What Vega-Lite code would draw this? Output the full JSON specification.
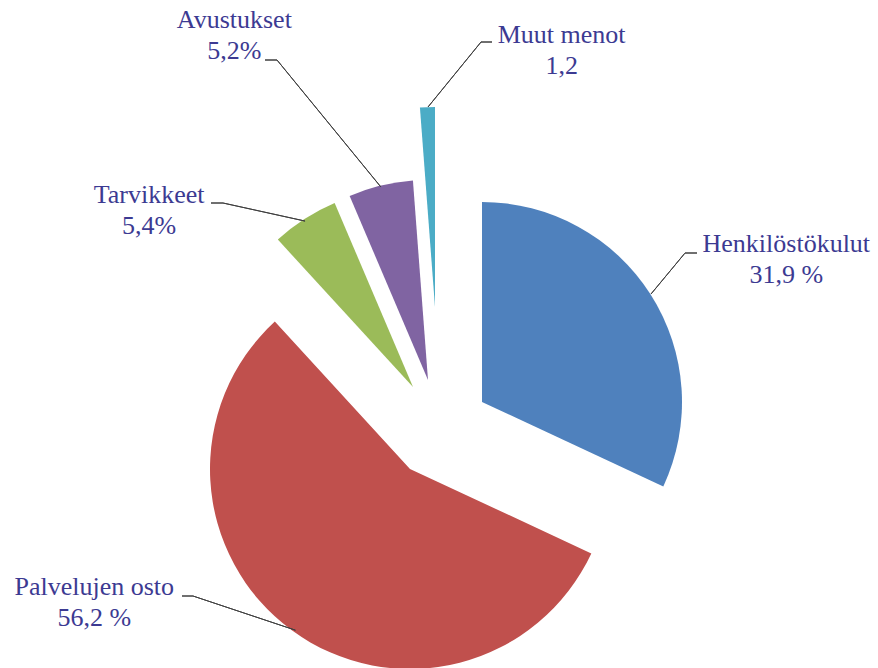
{
  "$schema": "https://vega.github.io/schema/vega-lite/v6.json",
  "width": 876,
  "height": 478,
  "autosize": "none",
  "padding": {"left": 2, "top": 190, "right": 0, "bottom": 0},
  "background": "white",
  "config": {"view": {"stroke": null}},
  "data": {
    "values": [
      {"category": "Henkilöstökulut", "value": 31.9, "label": "Henkilöstökulut\n31,9 %"},
      {"category": "Palvelujen osto", "value": 56.2, "label": "Palvelujen osto\n56,2 %"},
      {"category": "Tarvikkeet", "value": 5.4, "label": "Tarvikkeet\n5,4%"},
      {"category": "Avustukset", "value": 5.2, "label": "Avustukset\n5,2%"},
      {"category": "Muut menot", "value": 1.2, "label": "Muut menot\n1,2"}
    ]
  },
  "transform": [{"window": [{"op": "row_number", "as": "idx"}]}],
  "layer": [
    {
      "mark": {"type": "arc", "radius": 200, "color": "#4F81BD", "xOffset": 42, "yOffset": -27},
      "encoding": {
        "theta": {"field": "value", "type": "quantitative", "stack": true},
        "order": {"field": "idx", "type": "quantitative"},
        "opacity": {"condition": {"test": "datum.category === 'Henkilöstökulut'", "value": 1}, "value": 0}
      }
    },
    {
      "mark": {"type": "arc", "radius": 200, "color": "#C0504D", "xOffset": -30, "yOffset": 40},
      "encoding": {
        "theta": {"field": "value", "type": "quantitative", "stack": true},
        "order": {"field": "idx", "type": "quantitative"},
        "opacity": {"condition": {"test": "datum.category === 'Palvelujen osto'", "value": 1}, "value": 0}
      }
    },
    {
      "mark": {"type": "arc", "radius": 200, "color": "#9BBB59", "xOffset": -27, "yOffset": -42},
      "encoding": {
        "theta": {"field": "value", "type": "quantitative", "stack": true},
        "order": {"field": "idx", "type": "quantitative"},
        "opacity": {"condition": {"test": "datum.category === 'Tarvikkeet'", "value": 1}, "value": 0}
      }
    },
    {
      "mark": {"type": "arc", "radius": 200, "color": "#8064A2", "xOffset": -12, "yOffset": -49},
      "encoding": {
        "theta": {"field": "value", "type": "quantitative", "stack": true},
        "order": {"field": "idx", "type": "quantitative"},
        "opacity": {"condition": {"test": "datum.category === 'Avustukset'", "value": 1}, "value": 0}
      }
    },
    {
      "mark": {"type": "arc", "radius": 200, "color": "#4BACC6", "xOffset": -5, "yOffset": -122},
      "encoding": {
        "theta": {"field": "value", "type": "quantitative", "stack": true},
        "order": {"field": "idx", "type": "quantitative"},
        "opacity": {"condition": {"test": "datum.category === 'Muut menot'", "value": 1}, "value": 0}
      }
    },
    {
      "transform": [{"filter": "datum.category === 'Henkilöstökulut'"}],
      "mark": {"type": "arc", "theta": 0.6924, "theta2": 0.6929, "radius": 53, "radius2": 0, "filled": false, "stroke": "#404040", "strokeWidth": 1, "xOffset": 211, "yOffset": -135},
      "encoding": {}
    },
    {
      "transform": [{"filter": "datum.category === 'Henkilöstökulut'"}],
      "mark": {"type": "arc", "theta": 1.5708, "theta2": 1.5713, "radius": 12, "radius2": 0, "filled": false, "stroke": "#404040", "strokeWidth": 1, "xOffset": 245, "yOffset": -176},
      "encoding": {}
    },
    {
      "transform": [{"filter": "datum.category === 'Muut menot'"}],
      "mark": {"type": "arc", "theta": 0.6840, "theta2": 0.6845, "radius": 84, "radius2": 0, "filled": false, "stroke": "#404040", "strokeWidth": 1, "xOffset": -12, "yOffset": -322},
      "encoding": {}
    },
    {
      "transform": [{"filter": "datum.category === 'Muut menot'"}],
      "mark": {"type": "arc", "theta": 1.5708, "theta2": 1.5713, "radius": 11, "radius2": 0, "filled": false, "stroke": "#404040", "strokeWidth": 1, "xOffset": 41, "yOffset": -387},
      "encoding": {}
    },
    {
      "transform": [{"filter": "datum.category === 'Avustukset'"}],
      "mark": {"type": "arc", "theta": 1.5708, "theta2": 1.5713, "radius": 12, "radius2": 0, "filled": false, "stroke": "#404040", "strokeWidth": 1, "xOffset": -175, "yOffset": -369},
      "encoding": {}
    },
    {
      "transform": [{"filter": "datum.category === 'Avustukset'"}],
      "mark": {"type": "arc", "theta": 2.4557, "theta2": 2.4562, "radius": 164, "radius2": 0, "filled": false, "stroke": "#404040", "strokeWidth": 1, "xOffset": -163, "yOffset": -369},
      "encoding": {}
    },
    {
      "transform": [{"filter": "datum.category === 'Tarvikkeet'"}],
      "mark": {"type": "arc", "theta": 1.5708, "theta2": 1.5713, "radius": 12, "radius2": 0, "filled": false, "stroke": "#404040", "strokeWidth": 1, "xOffset": -229, "yOffset": -226},
      "encoding": {}
    },
    {
      "transform": [{"filter": "datum.category === 'Tarvikkeet'"}],
      "mark": {"type": "arc", "theta": 1.7873, "theta2": 1.7878, "radius": 84, "radius2": 0, "filled": false, "stroke": "#404040", "strokeWidth": 1, "xOffset": -217, "yOffset": -226},
      "encoding": {}
    },
    {
      "transform": [{"filter": "datum.category === 'Palvelujen osto'"}],
      "mark": {"type": "arc", "theta": 1.5708, "theta2": 1.5713, "radius": 11, "radius2": 0, "filled": false, "stroke": "#404040", "strokeWidth": 1, "xOffset": -258, "yOffset": 167},
      "encoding": {}
    },
    {
      "transform": [{"filter": "datum.category === 'Palvelujen osto'"}],
      "mark": {"type": "arc", "theta": 1.8925, "theta2": 1.8930, "radius": 108, "radius2": 0, "filled": false, "stroke": "#404040", "strokeWidth": 1, "xOffset": -247, "yOffset": 167},
      "encoding": {}
    },
    {
      "mark": {"type": "text", "radius": 387, "dx": 20, "dy": 31, "align": "center", "baseline": "alphabetic", "font": "Liberation Serif, DejaVu Serif", "fontSize": 26, "lineHeight": 31, "lineBreak": "\n", "color": "#3c3a92"},
      "encoding": {
        "theta": {"field": "value", "type": "quantitative", "stack": true},
        "order": {"field": "idx", "type": "quantitative"},
        "text": {"condition": {"test": "datum.category === 'Henkilöstökulut'", "field": "label", "type": "nominal"}, "value": ""}
      }
    },
    {
      "mark": {"type": "text", "radius": 338, "dx": -146, "dy": -107, "align": "center", "baseline": "alphabetic", "font": "Liberation Serif, DejaVu Serif", "fontSize": 26, "lineHeight": 31, "lineBreak": "\n", "color": "#3c3a92"},
      "encoding": {
        "theta": {"field": "value", "type": "quantitative", "stack": true},
        "order": {"field": "idx", "type": "quantitative"},
        "text": {"condition": {"test": "datum.category === 'Palvelujen osto'", "field": "label", "type": "nominal"}, "value": ""}
      }
    },
    {
      "mark": {"type": "text", "radius": 347, "dx": -103, "dy": 66, "align": "center", "baseline": "alphabetic", "font": "Liberation Serif, DejaVu Serif", "fontSize": 26, "lineHeight": 31, "lineBreak": "\n", "color": "#3c3a92"},
      "encoding": {
        "theta": {"field": "value", "type": "quantitative", "stack": true},
        "order": {"field": "idx", "type": "quantitative"},
        "text": {"condition": {"test": "datum.category === 'Tarvikkeet'", "field": "label", "type": "nominal"}, "value": ""}
      }
    },
    {
      "mark": {"type": "text", "radius": 438, "dx": -102, "dy": 25, "align": "center", "baseline": "alphabetic", "font": "Liberation Serif, DejaVu Serif", "fontSize": 26, "lineHeight": 31, "lineBreak": "\n", "color": "#3c3a92"},
      "encoding": {
        "theta": {"field": "value", "type": "quantitative", "stack": true},
        "order": {"field": "idx", "type": "quantitative"},
        "text": {"condition": {"test": "datum.category === 'Avustukset'", "field": "label", "type": "nominal"}, "value": ""}
      }
    },
    {
      "mark": {"type": "text", "radius": 381, "dx": 136, "dy": -5, "align": "center", "baseline": "alphabetic", "font": "Liberation Serif, DejaVu Serif", "fontSize": 26, "lineHeight": 31, "lineBreak": "\n", "color": "#3c3a92"},
      "encoding": {
        "theta": {"field": "value", "type": "quantitative", "stack": true},
        "order": {"field": "idx", "type": "quantitative"},
        "text": {"condition": {"test": "datum.category === 'Muut menot'", "field": "label", "type": "nominal"}, "value": ""}
      }
    }
  ]
}
